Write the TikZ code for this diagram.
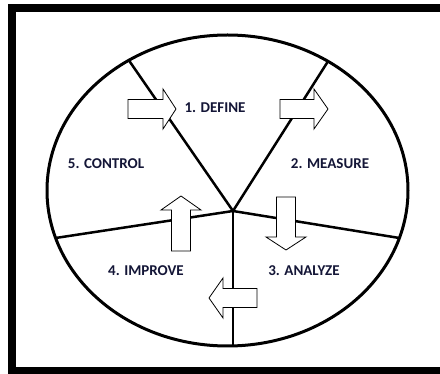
\documentclass[tikz,border=0pt]{standalone}
\usepackage{fontspec}
\usetikzlibrary{shapes.geometric}
\setmainfont{Carlito}
\definecolor{labelcol}{RGB}{20,22,55}
\tikzset{
  frameline/.style={line width=8pt},
  ringline/.style={line width=3pt},
  spoke/.style={line width=2.5pt},
  arrowbox/.style={draw=black, fill=white, line width=0.8pt, line join=miter},
  steplabel/.style={font=\fontsize{15}{18}\selectfont\bfseries, text=labelcol, inner sep=0pt},
  pics/barrow/.style 2 args={code={
    \draw[arrowbox] (-#1/2,-9.5) -- (#1/2-#2,-9.5) -- (#1/2-#2,-20) -- (#1/2,0)
      -- (#1/2-#2,20) -- (#1/2-#2,9.5) -- (-#1/2,9.5) -- cycle;
  }}
}
\begin{document}
\begin{tikzpicture}[x=1pt,y=-1pt]
\useasboundingbox (0,0) rectangle (440,374);
\fill[white] (0,0) rectangle (440,374);
% outer frame
\draw[frameline] (12,8.5) rectangle (460,371);
% ellipse
\node[draw, ringline, ellipse, minimum width=361pt, minimum height=311pt, inner sep=0pt] (ring) at (227.5,190.5) {};
% spokes
\coordinate (c) at (233,211);
\coordinate (ul) at (129,60.5);
\coordinate (ur) at (328,61.3);
\coordinate (lf) at (55.6,238);
\coordinate (rt) at (399.4,238);
\coordinate (bt) at (233,346);
\draw[spoke, line cap=round] (ul) -- (c) -- (ur);
\draw[spoke] (lf) -- (c) -- (rt);
\draw[spoke] (c) -- (bt);
% arrows
\pic (a1) at (152,109) {barrow={48}{13}};
\pic (a2) at (304,109) {barrow={48}{14}};
\pic[rotate=-90] (a3) at (286,223.5) {barrow={53}{13}};
\pic[rotate=180] (a4) at (233,298) {barrow={48}{14}};
\pic[rotate=90] (a5) at (181,223.5) {barrow={55}{14}};
% labels
\node[steplabel] (define) at (215,108) {1. DEFINE};
\node[steplabel] (measure) at (330,164) {2. MEASURE};
\node[steplabel] (analyze) at (304,271) {3. ANALYZE};
\node[steplabel] (improve) at (146,271) {4. IMPROVE};
\node[steplabel] (control) at (106,164) {5. CONTROL};
\end{tikzpicture}
\end{document}
